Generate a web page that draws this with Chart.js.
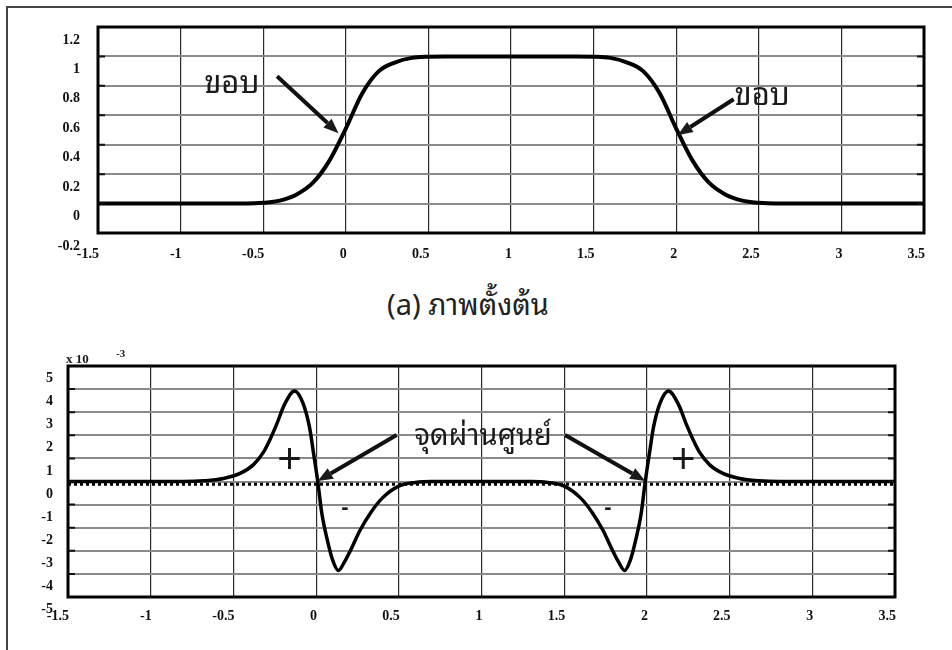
<!DOCTYPE html>
<html>
<head>
<meta charset="utf-8">
<script src="https://cdn.jsdelivr.net/npm/chart.js@4.4.1/dist/chart.umd.min.js"></script>
<style>
  html, body { margin: 0; padding: 0; background: #fff; }
  #page { position: relative; width: 952px; height: 650px; overflow: hidden; background: #fff; }
  #frame { position: absolute; left: 6px; top: 6px; width: 980px; height: 680px; border-left: 2px solid #444; border-top: 2px solid #444; }
  #wrap1 { position: absolute; left: 0; top: 0; width: 952px; height: 270px; }
  #wrap2 { position: absolute; left: 0; top: 330px; width: 952px; height: 320px; }
  #caption { position: absolute; left: 0; top: 279px; width: 936px; text-align: center; line-height: 38px;
    font: 29px 'Noto Sans Thai Looped', Loma, Garuda, Tahoma, 'Noto Sans Thai', 'Noto Sans', sans-serif; color: #222; }
</style>
</head>
<body>
<div id="page">
  <div id="frame"></div>
  <div id="wrap1"><canvas id="edgeChart" width="952" height="270"></canvas></div>
  <div id="caption">(a) ภาพตั้งต้น</div>
  <div id="wrap2"><canvas id="laplaceChart" width="952" height="320"></canvas></div>
</div>
<script>
// top plot: original intensity profile
const xTop = [-1.5, -1, -0.6, -0.5, -0.4, -0.3, -0.2, -0.1, 0, 0.1, 0.2, 0.3, 0.4, 0.5, 0.6, 1, 1.4, 1.5, 1.6, 1.7, 1.8, 1.9, 2, 2.1, 2.2, 2.3, 2.4, 2.5, 2.6, 3, 3.5]
const yTop = [0, 0, 0, 0.005, 0.02, 0.06, 0.14, 0.29, 0.51, 0.75, 0.9, 0.96, 0.99, 0.998, 1, 1, 1, 0.998, 0.99, 0.96, 0.9, 0.75, 0.51, 0.29, 0.14, 0.06, 0.02, 0.005, 0, 0, 0]

// bottom plot: second derivative, in units of 10^-3
const xBot = [-1.5, -1, -0.8, -0.68, -0.56, -0.46, -0.38, -0.32, -0.28, -0.24, -0.19, -0.13, -0.08, -0.04, -0.015, 0.01, 0.035, 0.07, 0.1, 0.135, 0.17, 0.22, 0.265, 0.33, 0.4, 0.5, 0.6, 0.7, 1, 1.3, 1.4, 1.5, 1.6, 1.67, 1.735, 1.78, 1.83, 1.865, 1.9, 1.93, 1.965, 1.99, 2.015, 2.04, 2.08, 2.13, 2.19, 2.24, 2.28, 2.32, 2.38, 2.46, 2.56, 2.68, 2.8, 3, 3.5]
const yBot = [0, 0, 0, 0.03, 0.13, 0.35, 0.72, 1.25, 1.8, 2.45, 3.35, 3.92, 3.4, 2.35, 1.2, 0, -1.4, -2.6, -3.4, -3.85, -3.5, -2.8, -2.12, -1.35, -0.72, -0.2, -0.04, 0, 0, 0, -0.04, -0.2, -0.72, -1.35, -2.12, -2.8, -3.5, -3.85, -3.4, -2.6, -1.4, 0, 1.2, 2.35, 3.4, 3.92, 3.35, 2.45, 1.8, 1.25, 0.72, 0.35, 0.13, 0.03, 0, 0, 0]
const xZero = [-1.5, 3.5]
const yZero = [-0.12, -0.12]

const xTicks = [-1.5, -1, -0.5, 0, 0.5, 1, 1.5, 2, 2.5, 3, 3.5]
const yTicksTop = [-0.2, 0, 0.2, 0.4, 0.6, 0.8, 1, 1.2]
const yTicksBot = [-5, -4, -3, -2, -1, 0, 1, 2, 3, 4, 5]

const thaiFont = "'Noto Sans Thai Looped', Loma, Garuda, Tahoma, 'Noto Sans Thai', 'Noto Sans', sans-serif"
const tickFont = { family: "'Liberation Serif', 'Times New Roman', serif", size: 14, weight: 'bold' }

function pts(xs, ys) {
  return xs.map((x, i) => ({ x: x, y: ys[i] }))
}

function drawArrow(ctx, x1, y1, x2, y2) {
  const head = 15
  const a = Math.atan2(y2 - y1, x2 - x1)
  const bx = x2 - head * Math.cos(a)
  const by = y2 - head * Math.sin(a)
  ctx.beginPath()
  ctx.moveTo(x1, y1)
  ctx.lineTo(bx, by)
  ctx.lineWidth = 4
  ctx.stroke()
  ctx.beginPath()
  ctx.moveTo(x2, y2)
  ctx.lineTo(bx + 6 * Math.sin(a), by - 6 * Math.cos(a))
  ctx.lineTo(bx - 6 * Math.sin(a), by + 6 * Math.cos(a))
  ctx.closePath()
  ctx.fill()
}

// frame, inner ticks and annotations
const notesPlugin = {
  id: 'notes',
  afterDraw(chart, args, opts) {
    const ctx = chart.ctx
    const a = chart.chartArea
    const xs = chart.scales.x
    const ys = chart.scales.y
    ctx.save()
    ctx.strokeStyle = '#111'
    ctx.lineWidth = 2
    ys.ticks.forEach(t => {
      const py = ys.getPixelForValue(t.value)
      ctx.beginPath()
      ctx.moveTo(a.left, py); ctx.lineTo(a.left + 7, py)
      ctx.moveTo(a.right - 7, py); ctx.lineTo(a.right, py)
      ctx.stroke()
    })
    ctx.lineWidth = 3
    ctx.strokeStyle = '#000'
    ctx.strokeRect(a.left, a.top, a.right - a.left, a.bottom - a.top)

    ctx.fillStyle = '#1a1a1a'
    ctx.strokeStyle = '#111'
    ctx.textAlign = 'center'
    ctx.textBaseline = 'middle'
    ;(opts.items || []).forEach(it => {
      if (it.arrow) {
        drawArrow(ctx, xs.getPixelForValue(it.arrow[0]), ys.getPixelForValue(it.arrow[1]),
          xs.getPixelForValue(it.arrow[2]), ys.getPixelForValue(it.arrow[3]))
      } else {
        ctx.font = it.font
        ctx.fillText(it.text, xs.getPixelForValue(it.x), ys.getPixelForValue(it.y))
      }
    })
    if (opts.exponent) {
      ctx.textAlign = 'left'
      ctx.font = "bold 13px 'Liberation Serif', serif"
      ctx.fillText('x 10', a.left - 2, a.top - 6)
      ctx.font = "bold 11px 'Liberation Serif', serif"
      ctx.fillText('-3', a.left + 48, a.top - 12)
    }
    ctx.restore()
  }
}

function scales(yMin, yMax, yTicks, yWidth, yPad, yOff, xHeight, xPad) {
  return {
    x: {
      type: 'linear', min: -1.5, max: 3.5,
      afterBuildTicks: s => { s.ticks = xTicks.map(v => ({ value: v })) },
      afterFit: s => { s.height = xHeight },
      ticks: { callback: v => String(v), font: tickFont, color: '#111', padding: xPad, align: 'end', labelOffset: 1, maxRotation: 0, autoSkip: false },
      grid: { color: '#2a2a2a', lineWidth: 1.2, drawTicks: false },
      border: { display: false }
    },
    y: {
      type: 'linear', min: yMin, max: yMax,
      afterBuildTicks: s => { s.ticks = yTicks.map(v => ({ value: v })) },
      afterFit: s => { s.width = yWidth },
      ticks: { callback: v => String(v), font: tickFont, color: '#111', padding: yPad, labelOffset: yOff, autoSkip: false },
      grid: { color: '#8a8a8a', lineWidth: 2, drawTicks: false },
      border: { display: false }
    }
  }
}

new Chart(document.getElementById('edgeChart').getContext('2d'), {
  type: 'line',
  data: {
    datasets: [{
      data: pts(xTop, yTop),
      borderColor: '#000',
      borderWidth: 4,
      pointRadius: 0,
      cubicInterpolationMode: 'monotone'
    }]
  },
  options: {
    responsive: false,
    animation: false,
    layout: { padding: { top: 27, right: 28, left: 0, bottom: 0 } },
    scales: scales(-0.2, 1.2, yTicksTop, 98, 18, 13, 37, 13),
    plugins: {
      legend: { display: false },
      tooltip: { enabled: false },
      notes: {
        items: [
          { text: 'ขอบ', x: -0.69, y: 0.81, font: '31px ' + thaiFont },
          { arrow: [-0.416, 0.865, -0.044, 0.478] },
          { text: 'ขอบ', x: 2.52, y: 0.73, font: '31px ' + thaiFont },
          { arrow: [2.348, 0.709, 2.009, 0.465] }
        ]
      }
    }
  },
  plugins: [notesPlugin]
})

new Chart(document.getElementById('laplaceChart').getContext('2d'), {
  type: 'line',
  data: {
    datasets: [{
      data: pts(xBot, yBot),
      borderColor: '#000',
      borderWidth: 3.5,
      pointRadius: 0,
      cubicInterpolationMode: 'monotone',
      order: 0
    }, {
      data: pts(xZero, yZero),
      borderColor: '#000',
      borderWidth: 3,
      borderDash: [3, 3],
      pointRadius: 0,
      order: 1
    }]
  },
  options: {
    responsive: false,
    animation: false,
    layout: { padding: { top: 36, right: 57, left: 0, bottom: 0 } },
    scales: scales(-5, 5, yTicksBot, 68, 15, 12.5, 53, 11),
    plugins: {
      legend: { display: false },
      tooltip: { enabled: false },
      notes: {
        exponent: true,
        items: [
          { text: 'จุดผ่านศูนย์', x: 1.01, y: 1.95, font: '29px ' + thaiFont },
          { arrow: [0.487, 2.01, 0.01, 0.02] },
          { arrow: [1.505, 2.01, 1.99, 0.02] },
          { text: '+', x: -0.16, y: 0.85, font: "42px 'Liberation Sans', sans-serif" },
          { text: '+', x: 2.22, y: 0.85, font: "42px 'Liberation Sans', sans-serif" },
          { text: '-', x: 0.174, y: -1.15, font: "bold 22px 'Liberation Sans', sans-serif" },
          { text: '-', x: 1.765, y: -1.15, font: "bold 22px 'Liberation Sans', sans-serif" }
        ]
      }
    }
  },
  plugins: [notesPlugin]
})
</script>
</body>
</html>
